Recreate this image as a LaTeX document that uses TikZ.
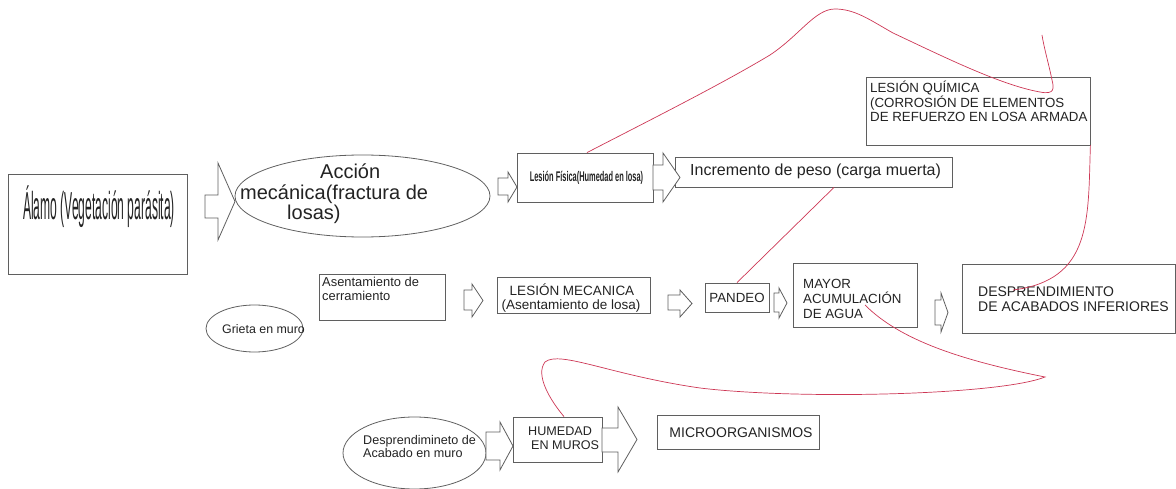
\documentclass[tikz,border=0pt]{standalone}
\usepackage{fontspec}
\setmainfont{Liberation Sans}
\usepackage{graphicx}
\usetikzlibrary{shapes.geometric}
\definecolor{boxgray}{RGB}{95,95,95}
\definecolor{txtgray}{RGB}{35,35,35}
\definecolor{curvered}{RGB}{205,55,85}
\newcommand{\fsz}[1]{\fontsize{#1}{#1}\selectfont}
\newcommand{\barrow}[7]{%
  \draw[barrowstyle] (#1,#5) -- (#2,#5) -- (#2,#4) -- (#3,{(#4+#7)/2}) -- (#2,#7) -- (#2,#6) -- (#1,#6) -- cycle;}
\begin{document}
\begin{tikzpicture}[x=1pt,y=-1pt,
  box/.style={draw=boxgray,line width=0.8pt,inner sep=0pt,rectangle},
  oval/.style={draw=boxgray,line width=0.8pt,inner sep=0pt,ellipse},
  tx/.style={text=txtgray,inner sep=0pt,anchor=base west},
  txc/.style={text=txtgray,inner sep=0pt,anchor=base},
  barrowstyle/.style={draw=boxgray,line width=0.8pt,line join=miter,fill=white},
  link/.style={draw=curvered,line width=0.7pt}]
\useasboundingbox (0,0) rectangle (1176,489);
% boxes
\node[box,minimum width=179pt,minimum height=100pt] (alamo) at (97.5,224) {};
\node[box,minimum width=136pt,minimum height=49pt] (lf) at (585,177.5) {};
\node[box,minimum width=277pt,minimum height=30pt] (inc) at (813.5,172) {};
\node[box,minimum width=224pt,minimum height=68pt] (lq) at (978,111) {};
\node[box,minimum width=126pt,minimum height=46pt] (asen) at (382,297) {};
\node[box,minimum width=153pt,minimum height=36pt] (lm) at (573.5,295) {};
\node[box,minimum width=64pt,minimum height=29pt] (pan) at (737,297.5) {};
\node[box,minimum width=124pt,minimum height=64pt] (may) at (855,295) {};
\node[box,minimum width=213pt,minimum height=69pt] (desp) at (1068.5,298.5) {};
\node[box,minimum width=89pt,minimum height=45pt] (hum) at (557.5,439.5) {};
\node[box,minimum width=162pt,minimum height=34pt] (mic) at (738,432) {};
% ellipses
\node[oval,minimum width=255pt,minimum height=82pt] (acc) at (362.5,196) {};
\node[oval,minimum width=97pt,minimum height=47pt] (gri) at (254.5,328.5) {};
\node[oval,minimum width=143pt,minimum height=72pt] (dac) at (414.5,453) {};
% block arrows
\barrow{205}{218}{235}{163}{195}{218}{240}
\barrow{498}{508}{517}{172}{178}{195}{202}
\barrow{653}{663}{680}{153}{165}{190}{202}
\barrow{464}{472}{483}{284}{290}{310}{317}
\barrow{668}{680}{692}{290}{295}{310}{317}
\barrow{774}{779}{787}{288}{293}{312}{318}
\barrow{935}{941}{948}{293}{300}{325}{332}
\barrow{486}{500}{513}{422}{432}{460}{470}
\barrow{602}{618}{637}{407}{428}{452}{472}
% texts
\node[txc] (talamo) at (99,220) {\scalebox{0.31}[1]{\fsz{39}Álamo (Vegetación parásita)}};
\node[tx,font=\fsz{20}] (acc1) at (320,179) {Acción};
\node[tx,font=\fsz{20}] (acc2) at (240,200) {mecánica(fractura de};
\node[tx,font=\fsz{20}] (acc3) at (287,220) {losas)};
\node[txc] (tlf) at (586.5,182) {\scalebox{0.53}[1]{\bfseries\fsz{14}Lesión Física(Humedad en losa)}};
\node[tx,font=\fsz{16}] (tinc) at (690,176) {Incremento de peso (carga muerta)};
\node[tx,font=\fsz{13.3}] (lq1) at (870,93) {LESIÓN QUÍMICA};
\node[tx,font=\fsz{13.3}] (lq2) at (870,108) {(CORROSIÓN DE ELEMENTOS};
\node[tx,font=\fsz{13.3}] (lq3) at (870,122) {DE REFUERZO EN LOSA ARMADA};
\node[tx,font=\fsz{12.9}] (as1) at (322,287) {Asentamiento de};
\node[tx,font=\fsz{12.9}] (as2) at (322,301) {cerramiento};
\node[txc,font=\fsz{13.5}] (lm1) at (572,295) {LESIÓN MECANICA};
\node[txc,font=\fsz{13.5}] (lm2) at (571,309) {(Asentamiento de losa)};
\node[txc,font=\fsz{13.3}] (tpan) at (737,302) {PANDEO};
\node[tx,font=\fsz{13.3}] (ma1) at (803,289) {MAYOR};
\node[tx,font=\fsz{13.3}] (ma2) at (803,304) {ACUMULACIÓN};
\node[tx,font=\fsz{13.3}] (ma3) at (803,319) {DE AGUA};
\node[tx,font=\fsz{14}] (de1) at (978,297) {DESPRENDIMIENTO};
\node[tx,font=\fsz{14}] (de2) at (978,312) {DE ACABADOS INFERIORES};
\node[tx,font=\fsz{12.4}] (tgri) at (222,334) {Grieta en muro};
\node[tx,font=\fsz{12.6}] (da1) at (363,444) {Desprendimineto de};
\node[tx,font=\fsz{12.6}] (da2) at (363,457) {Acabado en muro};
\node[tx,font=\fsz{12.6}] (hu1) at (528,435) {HUMEDAD};
\node[tx,font=\fsz{12.6}] (hu2) at (531,449) {EN MUROS};
\node[txc,font=\fsz{14}] (tmic) at (741,437) {MICROORGANISMOS};
% red connectors
\coordinate (c1end) at (1042,35);
\coordinate (c2end) at (1013,290);
\coordinate (c4start) at (865,305);
\draw[link] ([xshift=2pt]lf.north) .. controls (650,120) and (720,85) .. (770,55)
  .. controls (800,35) and (815,9) .. (835,9)
  .. controls (855,9) and (870,20) .. (893,33)
  .. controls (940,55) and (1000,85) .. (1040,92)
  .. controls (1055,95) and (1054,88) .. (1052,80)
  .. controls (1049,65) and (1044,48) .. (c1end);
\draw[link] (lq.south east) .. controls (1088,220) and (1092,280) .. (c2end);
\draw[link] ([xshift=20.5pt]inc.south) -- (pan.north);
\draw[link] (c4start) .. controls (900,340) and (960,360) .. (1045,377)
  .. controls (1000,395) and (800,400) .. (700,388)
  .. controls (610,375) and (560,350) .. (545,362)
  .. controls (535,375) and (550,400) .. ([xshift=6.5pt]hum.north);
\end{tikzpicture}
\end{document}
